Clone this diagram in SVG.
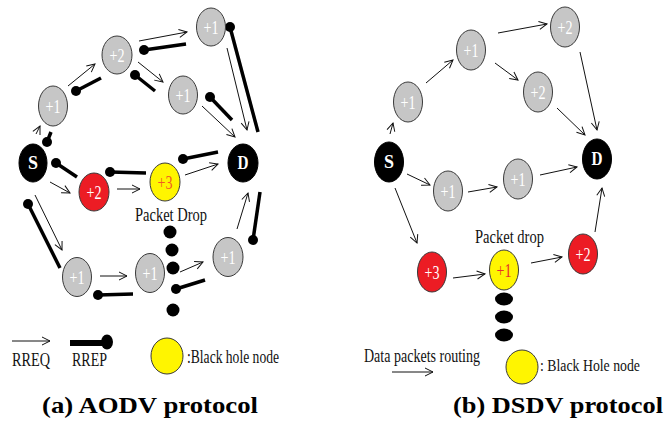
<svg xmlns="http://www.w3.org/2000/svg" width="666" height="423" viewBox="0 0 666 423">
<defs>
<marker id="ah" markerUnits="userSpaceOnUse" markerWidth="12" markerHeight="12" refX="9" refY="5" orient="auto">
<path d="M1,1 L9,5 L1,9" fill="none" stroke="#111" stroke-width="1"/>
</marker>
</defs>
<style>
.gray{fill:#c6c6c6;stroke:#3a3a3a;stroke-width:1}
.blk{fill:#000;stroke:#000}
.red{fill:#ec1c24;stroke:#3a3a3a;stroke-width:1}
.yel{fill:#fff500;stroke:#3a3a3a;stroke-width:1}
.nt{font-family:"Liberation Serif","Times New Roman",serif;font-size:19px;fill:#fff;text-anchor:middle}
.bt{font-family:"Liberation Serif","Times New Roman",serif;font-size:18px;font-weight:bold;fill:#fff;text-anchor:middle}
.yt{font-family:"Liberation Serif","Times New Roman",serif;font-size:19px;fill:#f15a24;text-anchor:middle}
.lbl{font-family:"Liberation Serif","Times New Roman",serif;font-size:19px;fill:#111}
.cap{font-family:"Liberation Serif","Times New Roman",serif;font-size:23px;font-weight:bold;fill:#000}
.rq{stroke:#111;stroke-width:1;fill:none;marker-end:url(#ah)}
.rp{stroke:#000;stroke-width:3.5;fill:none}
.dot{fill:#000}
</style>
<rect width="666" height="423" fill="#fff"/>

<!-- Left: AODV connectors -->
<g id="aodv-connectors">
<line class="rq" x1="36" y1="134" x2="40" y2="126"/>
<line class="rp" x1="47" y1="142" x2="51" y2="132"/><circle class="dot" cx="47" cy="142" r="5"/>
<line class="rq" x1="68" y1="86" x2="95" y2="64"/>
<line class="rp" x1="76" y1="91" x2="101" y2="78"/><circle class="dot" cx="76" cy="91" r="5"/>
<line class="rq" x1="139" y1="41" x2="187" y2="32"/>
<line class="rp" x1="144" y1="50" x2="186" y2="44"/><circle class="dot" cx="144" cy="50" r="5"/>
<line class="rq" x1="138" y1="62" x2="163" y2="82"/>
<line class="rp" x1="135" y1="75" x2="155" y2="91"/><circle class="dot" cx="135" cy="75" r="5"/>
<line class="rq" x1="227" y1="48" x2="247" y2="130"/>
<line class="rp" x1="230" y1="27" x2="258" y2="132"/><circle class="dot" cx="230" cy="27" r="5"/>
<line class="rq" x1="202" y1="106" x2="235" y2="137"/>
<line class="rp" x1="210" y1="97" x2="232" y2="120"/><circle class="dot" cx="210" cy="97" r="5"/>
<line class="rq" x1="50" y1="182" x2="70" y2="193"/>
<line class="rp" x1="56" y1="163" x2="77" y2="177"/><circle class="dot" cx="56" cy="163" r="5"/>
<line class="rq" x1="117" y1="189" x2="140" y2="189"/>
<line class="rp" x1="110" y1="172" x2="146" y2="173"/><circle class="dot" cx="110" cy="172" r="5"/>
<line class="rq" x1="185" y1="175" x2="218" y2="164"/>
<line class="rp" x1="183" y1="159" x2="218" y2="152"/><circle class="dot" cx="183" cy="159" r="5"/>
<line class="rq" x1="35" y1="195" x2="62" y2="250"/>
<line class="rp" x1="28" y1="204" x2="60" y2="268"/><circle class="dot" cx="28" cy="204" r="5"/>
<line class="rq" x1="100" y1="276" x2="127" y2="276"/>
<line class="rp" x1="98" y1="295" x2="133" y2="294"/><circle class="dot" cx="98" cy="295" r="5"/>
<line class="rq" x1="180" y1="272" x2="203" y2="262"/>
<line class="rp" x1="176" y1="289" x2="205" y2="280"/><circle class="dot" cx="176" cy="289" r="5"/>
<line class="rq" x1="237" y1="229" x2="248" y2="193"/>
<line class="rp" x1="253" y1="240" x2="260" y2="192"/><circle class="dot" cx="253" cy="240" r="5"/>
</g>

<!-- Left: AODV nodes -->
<g id="aodv-S"><ellipse class="blk" cx="33" cy="163" rx="14" ry="19"/><text class="bt" x="33" y="169" textLength="10" lengthAdjust="spacingAndGlyphs">S</text></g>
<g id="aodv-n1"><ellipse class="gray" cx="53" cy="106" rx="14.5" ry="20"/><text class="nt" x="53" y="113" textLength="15" lengthAdjust="spacingAndGlyphs">+1</text></g>
<g id="aodv-n2"><ellipse class="gray" cx="117" cy="55" rx="15" ry="19"/><text class="nt" x="117" y="62" textLength="15" lengthAdjust="spacingAndGlyphs">+2</text></g>
<g id="aodv-n3"><ellipse class="gray" cx="211" cy="27" rx="14.5" ry="19"/><text class="nt" x="211" y="34" textLength="15" lengthAdjust="spacingAndGlyphs">+1</text></g>
<g id="aodv-n4"><ellipse class="gray" cx="183" cy="95" rx="14.5" ry="19"/><text class="nt" x="183" y="102" textLength="15" lengthAdjust="spacingAndGlyphs">+1</text></g>
<g id="aodv-D"><ellipse class="blk" cx="243" cy="163" rx="15" ry="19"/><text class="bt" x="243" y="169" textLength="11" lengthAdjust="spacingAndGlyphs">D</text></g>
<g id="aodv-r2"><ellipse class="red" cx="94" cy="192" rx="15" ry="19"/><text class="nt" x="94" y="199" textLength="15" lengthAdjust="spacingAndGlyphs">+2</text></g>
<g id="aodv-y3"><ellipse class="yel" cx="165" cy="182" rx="15" ry="19"/><text class="yt" x="165" y="189" textLength="15" lengthAdjust="spacingAndGlyphs">+3</text></g>
<g id="aodv-b1"><ellipse class="gray" cx="77" cy="277" rx="14.5" ry="19.5"/><text class="nt" x="77" y="284" textLength="15" lengthAdjust="spacingAndGlyphs">+1</text></g>
<g id="aodv-b2"><ellipse class="gray" cx="150" cy="273" rx="14.5" ry="19.5"/><text class="nt" x="150" y="280" textLength="15" lengthAdjust="spacingAndGlyphs">+1</text></g>
<g id="aodv-b3"><ellipse class="gray" cx="228" cy="257" rx="15" ry="19.5"/><text class="nt" x="228" y="264" textLength="15" lengthAdjust="spacingAndGlyphs">+1</text></g>

<!-- Left: packet drop -->
<text class="lbl" x="135" y="221" textLength="72" lengthAdjust="spacingAndGlyphs">Packet Drop</text>
<circle class="dot" cx="170" cy="232" r="6.5"/>
<circle class="dot" cx="172" cy="250" r="6.5"/>
<circle class="dot" cx="173" cy="268" r="6.5"/>
<circle class="dot" cx="173" cy="310" r="6.5"/>

<!-- Left legend -->
<line class="rq" x1="12" y1="341" x2="50" y2="341"/>
<text class="lbl" x="12" y="366" textLength="38" lengthAdjust="spacingAndGlyphs">RREQ</text>
<line x1="70" y1="343" x2="106" y2="343" stroke="#000" stroke-width="6"/>
<ellipse class="dot" cx="107" cy="342" rx="6" ry="7.5"/>
<text class="lbl" x="72" y="366" textLength="35" lengthAdjust="spacingAndGlyphs">RREP</text>
<ellipse class="yel" cx="167" cy="356" rx="16" ry="18"/>
<text class="lbl" x="187" y="363" textLength="92" lengthAdjust="spacingAndGlyphs">:Black hole node</text>
<text class="cap" x="42" y="413" textLength="216" lengthAdjust="spacingAndGlyphs">(a) AODV protocol</text>

<!-- Right: DSDV connectors -->
<g id="dsdv-connectors">
<line class="rq" x1="390" y1="134" x2="393" y2="123"/>
<line class="rq" x1="426" y1="83" x2="453" y2="60"/>
<line class="rq" x1="498" y1="33" x2="547" y2="24"/>
<line class="rq" x1="495" y1="63" x2="518" y2="80"/>
<line class="rq" x1="580" y1="52" x2="597" y2="130"/>
<line class="rq" x1="557" y1="108" x2="585" y2="135"/>
<line class="rq" x1="407" y1="174" x2="430" y2="185"/>
<line class="rq" x1="468" y1="192" x2="497" y2="187"/>
<line class="rq" x1="540" y1="175" x2="577" y2="167"/>
<line class="rq" x1="395" y1="188" x2="417" y2="243"/>
<line class="rq" x1="453" y1="278" x2="485" y2="274"/>
<line class="rq" x1="531" y1="263" x2="562" y2="257"/>
<line class="rq" x1="595" y1="232" x2="602" y2="188"/>
</g>

<!-- Right: DSDV nodes -->
<g id="dsdv-S"><ellipse class="blk" cx="389" cy="162" rx="14.5" ry="20"/><text class="bt" x="389" y="168" textLength="10" lengthAdjust="spacingAndGlyphs">S</text></g>
<g id="dsdv-a1"><ellipse class="gray" cx="408" cy="102" rx="14.5" ry="20"/><text class="nt" x="408" y="109" textLength="15" lengthAdjust="spacingAndGlyphs">+1</text></g>
<g id="dsdv-a2"><ellipse class="gray" cx="471" cy="50" rx="14.5" ry="20"/><text class="nt" x="471" y="57" textLength="15" lengthAdjust="spacingAndGlyphs">+1</text></g>
<g id="dsdv-a3"><ellipse class="gray" cx="565" cy="27" rx="14.5" ry="20"/><text class="nt" x="565" y="34" textLength="15" lengthAdjust="spacingAndGlyphs">+2</text></g>
<g id="dsdv-a4"><ellipse class="gray" cx="538" cy="92" rx="14.5" ry="20"/><text class="nt" x="538" y="99" textLength="15" lengthAdjust="spacingAndGlyphs">+2</text></g>
<g id="dsdv-D"><ellipse class="blk" cx="597" cy="159" rx="14.5" ry="20"/><text class="bt" x="597" y="165" textLength="11" lengthAdjust="spacingAndGlyphs">D</text></g>
<g id="dsdv-c1"><ellipse class="gray" cx="448" cy="191" rx="14.5" ry="20"/><text class="nt" x="448" y="198" textLength="15" lengthAdjust="spacingAndGlyphs">+1</text></g>
<g id="dsdv-c2"><ellipse class="gray" cx="518" cy="179" rx="14.5" ry="20"/><text class="nt" x="518" y="186" textLength="15" lengthAdjust="spacingAndGlyphs">+1</text></g>
<g id="dsdv-r3"><ellipse class="red" cx="432" cy="272" rx="14.5" ry="20"/><text class="nt" x="432" y="279" textLength="15" lengthAdjust="spacingAndGlyphs">+3</text></g>
<g id="dsdv-y1"><ellipse class="yel" cx="504" cy="270" rx="14.5" ry="20"/><text class="yt" x="504" y="277" textLength="15" lengthAdjust="spacingAndGlyphs" style="fill:#e8302a">+1</text></g>
<g id="dsdv-r2"><ellipse class="red" cx="583" cy="254" rx="14.5" ry="20"/><text class="nt" x="583" y="261" textLength="15" lengthAdjust="spacingAndGlyphs">+2</text></g>

<!-- Right: packet drop -->
<text class="lbl" x="475" y="243" textLength="69" lengthAdjust="spacingAndGlyphs">Packet drop</text>
<ellipse class="dot" cx="504" cy="299" rx="9" ry="6.5"/>
<ellipse class="dot" cx="504" cy="317" rx="9" ry="6.5"/>
<ellipse class="dot" cx="504" cy="335" rx="9" ry="6.5"/>

<!-- Right legend -->
<text class="lbl" x="364" y="362" textLength="116" lengthAdjust="spacingAndGlyphs">Data packets routing</text>
<line class="rq" x1="392" y1="372" x2="433" y2="372"/>
<ellipse class="yel" cx="522" cy="367" rx="16" ry="17"/>
<text class="lbl" x="540" y="371" style="font-size:17px" textLength="100" lengthAdjust="spacingAndGlyphs">: Black Hole node</text>
<text class="cap" x="453" y="413" textLength="210" lengthAdjust="spacingAndGlyphs">(b) DSDV protocol</text>
</svg>
